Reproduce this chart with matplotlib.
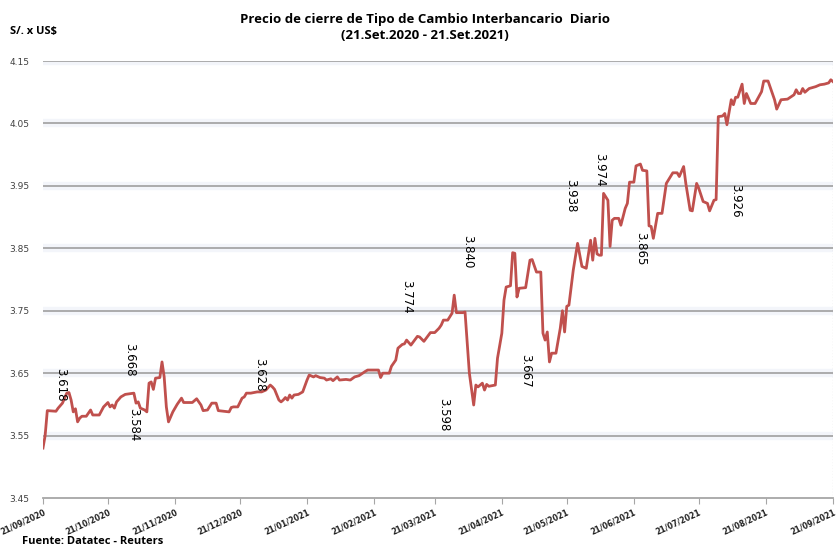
import matplotlib
matplotlib.use('Agg')
import matplotlib.pyplot as plt
import matplotlib.dates as mdates
import matplotlib.transforms as mtransforms
import pandas as pd

# tipo de cambio interbancario, lectura aproximada del grafico
fechas = [
    '2020-09-21', '2020-09-22', '2020-09-23', '2020-09-27', '2020-09-28', '2020-09-30',
    '2020-10-02', '2020-10-03', '2020-10-04', '2020-10-05', '2020-10-06', '2020-10-07',
    '2020-10-08', '2020-10-09', '2020-10-11', '2020-10-13', '2020-10-14', '2020-10-17',
    '2020-10-19', '2020-10-21', '2020-10-22', '2020-10-23', '2020-10-24', '2020-10-25',
    '2020-10-27', '2020-10-29', '2020-11-02', '2020-11-03', '2020-11-04', '2020-11-05',
    '2020-11-07', '2020-11-08', '2020-11-09', '2020-11-10', '2020-11-11', '2020-11-12',
    '2020-11-14', '2020-11-15', '2020-11-16', '2020-11-17', '2020-11-18', '2020-11-20',
    '2020-11-22', '2020-11-24', '2020-11-25', '2020-11-29', '2020-12-01', '2020-12-03',
    '2020-12-04', '2020-12-06', '2020-12-08', '2020-12-10', '2020-12-11', '2020-12-16',
    '2020-12-17', '2020-12-18', '2020-12-20', '2020-12-22', '2020-12-23', '2020-12-24',
    '2020-12-26', '2020-12-29', '2020-12-31', '2021-01-02', '2021-01-04', '2021-01-05',
    '2021-01-06', '2021-01-08', '2021-01-09', '2021-01-10', '2021-01-11', '2021-01-12',
    '2021-01-13', '2021-01-14', '2021-01-15', '2021-01-17', '2021-01-19', '2021-01-21',
    '2021-01-22', '2021-01-24', '2021-01-25', '2021-01-27', '2021-01-29', '2021-01-30',
    '2021-02-01', '2021-02-02', '2021-02-04', '2021-02-05', '2021-02-08', '2021-02-10',
    '2021-02-12', '2021-02-14', '2021-02-17', '2021-02-18', '2021-02-23', '2021-02-24',
    '2021-02-25', '2021-02-28', '2021-03-01', '2021-03-03', '2021-03-04', '2021-03-06',
    '2021-03-07', '2021-03-08', '2021-03-10', '2021-03-13', '2021-03-14', '2021-03-16',
    '2021-03-19', '2021-03-21', '2021-03-23', '2021-03-24', '2021-03-25', '2021-03-27',
    '2021-03-29', '2021-03-30', '2021-03-31', '2021-04-03', '2021-04-04', '2021-04-06',
    '2021-04-08', '2021-04-09', '2021-04-10', '2021-04-12', '2021-04-13', '2021-04-14',
    '2021-04-15', '2021-04-18', '2021-04-19', '2021-04-21', '2021-04-22', '2021-04-23',
    '2021-04-25', '2021-04-26', '2021-04-27', '2021-04-28', '2021-04-29', '2021-05-02',
    '2021-05-04', '2021-05-05', '2021-05-07', '2021-05-09', '2021-05-10', '2021-05-11',
    '2021-05-12', '2021-05-13', '2021-05-14', '2021-05-16', '2021-05-18', '2021-05-19',
    '2021-05-20', '2021-05-21', '2021-05-22', '2021-05-24', '2021-05-26', '2021-05-28',
    '2021-05-30', '2021-06-01', '2021-06-02', '2021-06-03', '2021-06-04', '2021-06-05',
    '2021-06-06', '2021-06-07', '2021-06-09', '2021-06-10', '2021-06-11', '2021-06-12',
    '2021-06-14', '2021-06-15', '2021-06-17', '2021-06-18', '2021-06-19', '2021-06-21',
    '2021-06-22', '2021-06-24', '2021-06-25', '2021-06-27', '2021-06-28', '2021-06-29',
    '2021-06-30', '2021-07-02', '2021-07-04', '2021-07-06', '2021-07-09', '2021-07-11',
    '2021-07-12', '2021-07-14', '2021-07-15', '2021-07-17', '2021-07-18', '2021-07-20',
    '2021-07-21', '2021-07-23', '2021-07-25', '2021-07-26', '2021-07-28', '2021-07-29',
    '2021-07-30', '2021-08-01', '2021-08-02', '2021-08-03', '2021-08-05', '2021-08-06',
    '2021-08-07', '2021-08-08', '2021-08-10', '2021-08-11', '2021-08-12', '2021-08-14',
    '2021-08-16', '2021-08-19', '2021-08-20', '2021-08-22', '2021-08-24', '2021-08-25',
    '2021-08-26', '2021-08-28', '2021-08-31', '2021-09-03', '2021-09-04', '2021-09-05',
    '2021-09-06', '2021-09-07', '2021-09-08', '2021-09-10', '2021-09-13', '2021-09-15',
    '2021-09-17', '2021-09-19', '2021-09-20', '2021-09-21',
]

tc = [
    3.530, 3.550, 3.590, 3.589, 3.594, 3.602,
    3.618, 3.619, 3.607, 3.588, 3.593, 3.572,
    3.578, 3.581, 3.581, 3.591, 3.583, 3.583,
    3.596, 3.603, 3.596, 3.599, 3.594, 3.604,
    3.612, 3.616, 3.618, 3.602, 3.604, 3.594,
    3.591, 3.588, 3.634, 3.636, 3.624, 3.642,
    3.643, 3.668, 3.644, 3.596, 3.572, 3.588,
    3.600, 3.610, 3.603, 3.603, 3.609, 3.599,
    3.590, 3.591, 3.602, 3.602, 3.590, 3.588,
    3.595, 3.596, 3.596, 3.610, 3.612, 3.618,
    3.618, 3.620, 3.620, 3.623, 3.631, 3.628,
    3.624, 3.607, 3.604, 3.607, 3.611, 3.607,
    3.615, 3.610, 3.615, 3.616, 3.620, 3.639,
    3.647, 3.644, 3.646, 3.643, 3.642, 3.639,
    3.641, 3.638, 3.644, 3.639, 3.640, 3.639,
    3.644, 3.646, 3.653, 3.655, 3.655, 3.643,
    3.650, 3.650, 3.661, 3.671, 3.690, 3.696,
    3.697, 3.703, 3.695, 3.709, 3.708, 3.701,
    3.715, 3.715, 3.722, 3.727, 3.735, 3.735,
    3.746, 3.775, 3.747, 3.747, 3.748, 3.650,
    3.599, 3.631, 3.628, 3.634, 3.623, 3.632,
    3.629, 3.631, 3.674, 3.714, 3.767, 3.788,
    3.790, 3.843, 3.842, 3.772, 3.786, 3.787,
    3.831, 3.832, 3.812, 3.812, 3.714, 3.703,
    3.716, 3.668, 3.682, 3.682, 3.722, 3.750,
    3.716, 3.757, 3.759, 3.815, 3.858, 3.821,
    3.818, 3.863, 3.831, 3.866, 3.841, 3.839,
    3.839, 3.938, 3.927, 3.853, 3.895, 3.898,
    3.898, 3.887, 3.914, 3.922, 3.956, 3.956,
    3.982, 3.985, 3.975, 3.974, 3.886, 3.885,
    3.866, 3.906, 3.906, 3.954, 3.971, 3.971,
    3.965, 3.981, 3.954, 3.911, 3.910, 3.954,
    3.946, 3.925, 3.922, 3.910, 3.927, 3.928,
    4.061, 4.062, 4.066, 4.048, 4.088, 4.080,
    4.092, 4.092, 4.113, 4.082, 4.098, 4.082,
    4.082, 4.101, 4.118, 4.118, 4.098, 4.088,
    4.073, 4.088, 4.089, 4.096, 4.104, 4.098,
    4.098, 4.106, 4.100, 4.106, 4.109, 4.112,
    4.113, 4.115, 4.120, 4.117,
]

# etiquetas de valores (texto vertical)
etiquetas = ['3.618', '3.668', '3.584', '3.628', '3.774', '3.840',
             '3.598', '3.667', '3.938', '3.974', '3.865', '3.926']
etiq_fechas = ['2020-09-29', '2020-10-31', '2020-11-02', '2020-12-30', '2021-03-08', '2021-04-05',
               '2021-03-25', '2021-05-02', '2021-05-23', '2021-06-05', '2021-06-24', '2021-08-07']
etiq_y = [3.631, 3.671, 3.567, 3.647, 3.772, 3.844,
          3.583, 3.653, 3.935, 3.975, 3.850, 3.926]

niveles = [3.45, 3.55, 3.65, 3.75, 3.85, 3.95, 4.05, 4.15]

x = pd.to_datetime(fechas)
inicio = pd.Timestamp('2020-09-21')
fin = pd.Timestamp('2021-09-21')

fig = plt.figure(figsize=(8.36, 5.50), dpi=100)
ax = fig.add_axes([0.0514, 0.0945, 0.945, 0.7945])

# lineas de grilla con halo suave
for n in niveles[1:]:
    ax.axhline(n, color='#f3f5fa', lw=6, zorder=1)
    ax.axhline(n, color='#a6a6a6', lw=1.3, zorder=2)

ax.plot(x, tc, color='#c0504d', lw=2.0, zorder=3)

for t, f, yv in zip(etiquetas, etiq_fechas, etiq_y):
    ax.text(pd.Timestamp(f), yv, t, rotation=-90, ha='center', va='center',
            fontsize=8.5, color='black', zorder=4)

ax.set_xlim(inicio, fin)
ax.set_ylim(3.45, 4.15)
ax.set_yticks(niveles)
ax.set_yticklabels(['%.2f' % n for n in niveles])

ax.xaxis.set_major_locator(mdates.MonthLocator(bymonthday=21))
ax.xaxis.set_major_formatter(mdates.DateFormatter('%d/%m/%Y'))
desplaza = mtransforms.ScaledTranslation(3 / 100, 0, fig.dpi_scale_trans)
for lbl in ax.get_xticklabels():
    lbl.set_rotation(25)
    lbl.set_rotation_mode('anchor')
    lbl.set_ha('right')
    lbl.set_va('top')
    lbl.set_fontweight('bold')
    lbl.set_fontsize(5.6)
    lbl.set_transform(lbl.get_transform() + desplaza)

ax.tick_params(axis='y', length=0, labelsize=6.5, labelcolor='#404040', pad=10)
ax.tick_params(axis='x', length=4, color='#a6a6a6', labelcolor='#202020', pad=3)

ax.spines['top'].set_visible(False)
ax.spines['left'].set_visible(False)
ax.spines['right'].set_visible(False)
ax.spines['bottom'].set_color('#a6a6a6')
ax.spines['bottom'].set_linewidth(1.3)
ax.axvline(fin, color='#808080', lw=0.8, ls=':', zorder=2)

fig.text(0.508, 0.965, 'Precio de cierre de Tipo de Cambio Interbancario  Diario',
         ha='center', va='center', fontsize=9.5, fontweight='bold', family='Open Sans')
fig.text(0.508, 0.935, '(21.Set.2020 - 21.Set.2021)',
         ha='center', va='center', fontsize=9.5, fontweight='bold', family='Open Sans')
fig.text(0.012, 0.942, 'S/. x US$', ha='left', va='center', fontsize=8,
         fontweight='bold', family='Open Sans')
fig.text(0.026, 0.016, 'Fuente: Datatec - Reuters', ha='left', va='center', fontsize=8,
         fontweight='bold', family='Open Sans')

plt.savefig('out.png', dpi=100)
plt.close('all')
